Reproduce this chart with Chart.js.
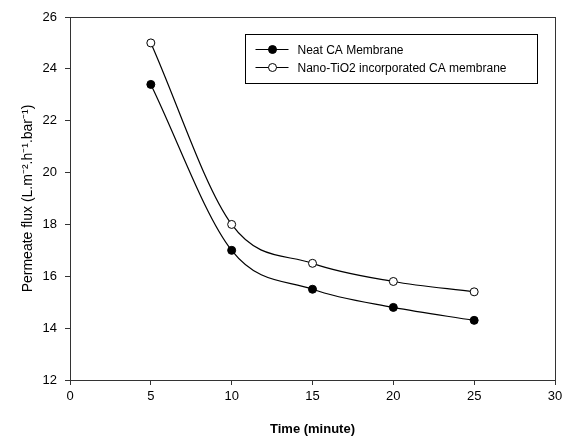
<!DOCTYPE html>
<html>
<head>
<meta charset="utf-8">
<script src="https://cdn.jsdelivr.net/npm/chart.js@4.4.0/dist/chart.umd.min.js"></script>
<style>
  html, body { margin: 0; padding: 0; background: #fff; }
  #wrap { width: 585px; height: 441px; }
</style>
</head>
<body>
<div id="wrap"><canvas id="myChart" width="585" height="441"></canvas></div>
<script>
var times = [5, 10, 15, 20, 25];
var neatFlux = [23.4, 17.0, 15.5, 14.8, 14.3];
var tio2Flux = [25.0, 18.0, 16.5, 15.8, 15.4];
var seriesNames = ['Neat CA Membrane', 'Nano-TiO2 incorporated CA membrane'];
var xTicks = [0, 5, 10, 15, 20, 25, 30];
var yTicks = [12, 14, 16, 18, 20, 22, 24, 26];

var FONT = 'Arial, "Liberation Sans", sans-serif';

function toPoints(xs, ys) {
    var pts = [];
    for (var i = 0; i < xs.length; i++) pts.push({ x: xs[i], y: ys[i] });
    return pts;
}

// frame around the plot + custom legend box
var framePlugin = {
    id: 'frame',
    afterDraw: function(chart) {
        var ctx = chart.ctx, a = chart.chartArea;
        ctx.save();
        ctx.strokeStyle = '#333';
        ctx.lineWidth = 1;
        ctx.strokeRect(Math.round(a.left) + 0.5, Math.round(a.top) + 0.5,
            Math.round(a.right - a.left), Math.round(a.bottom - a.top));

        // legend
        var bx = 245.5, by = 34.5, bw = 292, bh = 49;
        ctx.strokeStyle = '#000';
        ctx.strokeRect(bx, by, bw, bh);
        ctx.font = '12px ' + FONT;
        ctx.textBaseline = 'middle';
        chart.data.datasets.forEach(function(ds, i) {
            var yy = by + 15 + i * 18;
            ctx.beginPath();
            ctx.moveTo(bx + 10, yy);
            ctx.lineTo(bx + 43, yy);
            ctx.strokeStyle = '#000';
            ctx.lineWidth = 1;
            ctx.stroke();
            ctx.beginPath();
            ctx.arc(bx + 27, yy, 4, 0, Math.PI * 2);
            ctx.fillStyle = ds.pointBackgroundColor;
            ctx.fill();
            ctx.stroke();
            ctx.fillStyle = '#000';
            ctx.fillText(ds.label, bx + 52, yy + 1);
        });
        ctx.restore();
    }
};

var context = document.getElementById('myChart').getContext('2d');
var chart = new Chart(context, {
    type: 'line',
    data: {
        datasets: [{
            label: seriesNames[0],
            data: toPoints(times, neatFlux),
            borderColor: '#000',
            borderWidth: 1.2,
            pointBackgroundColor: '#000',
            pointBorderColor: '#000',
            pointRadius: 4,
            pointBorderWidth: 1,
            cubicInterpolationMode: 'monotone',
            fill: false
        }, {
            label: seriesNames[1],
            data: toPoints(times, tio2Flux),
            borderColor: '#000',
            borderWidth: 1.2,
            pointBackgroundColor: '#fff',
            pointBorderColor: '#000',
            pointRadius: 4,
            pointBorderWidth: 1,
            cubicInterpolationMode: 'monotone',
            fill: false
        }]
    },
    options: {
        responsive: false,
        animation: false,
        layout: { padding: { left: 0, right: 30, top: 17, bottom: 0 } },
        plugins: {
            legend: { display: false },
            tooltip: { enabled: false }
        },
        scales: {
            x: {
                type: 'linear',
                min: 0, max: 30,
                afterBuildTicks: function(scale) {
                    scale.ticks = xTicks.map(function(v) { return { value: v }; });
                },
                afterFit: function(scale) { scale.height = 61; },
                grid: { drawOnChartArea: false, drawTicks: true, tickLength: 5, color: '#333' },
                border: { display: true, color: '#333' },
                ticks: { color: '#000', font: { family: FONT, size: 13 }, padding: 4, maxRotation: 0 },
                title: {
                    display: true, text: 'Time (minute)', color: '#000',
                    font: { family: FONT, size: 13, weight: 'bold' }, padding: { top: 9 }
                }
            },
            y: {
                type: 'linear',
                min: 12, max: 26,
                afterBuildTicks: function(scale) {
                    scale.ticks = yTicks.map(function(v) { return { value: v }; });
                },
                afterFit: function(scale) { scale.width = 70; },
                grid: { drawOnChartArea: false, drawTicks: true, tickLength: 5, color: '#333' },
                border: { display: true, color: '#333' },
                ticks: { color: '#000', font: { family: FONT, size: 13 }, padding: 8 },
                title: {
                    display: true, text: 'Permeate flux (L.m\u207B\u00B2.h\u207B\u00B9.bar\u207B\u00B9)', color: '#000',
                    font: { family: FONT, size: 14 }, padding: { top: 20, bottom: 4 }
                }
            }
        }
    },
    plugins: [framePlugin]
});
</script>
</body>
</html>
